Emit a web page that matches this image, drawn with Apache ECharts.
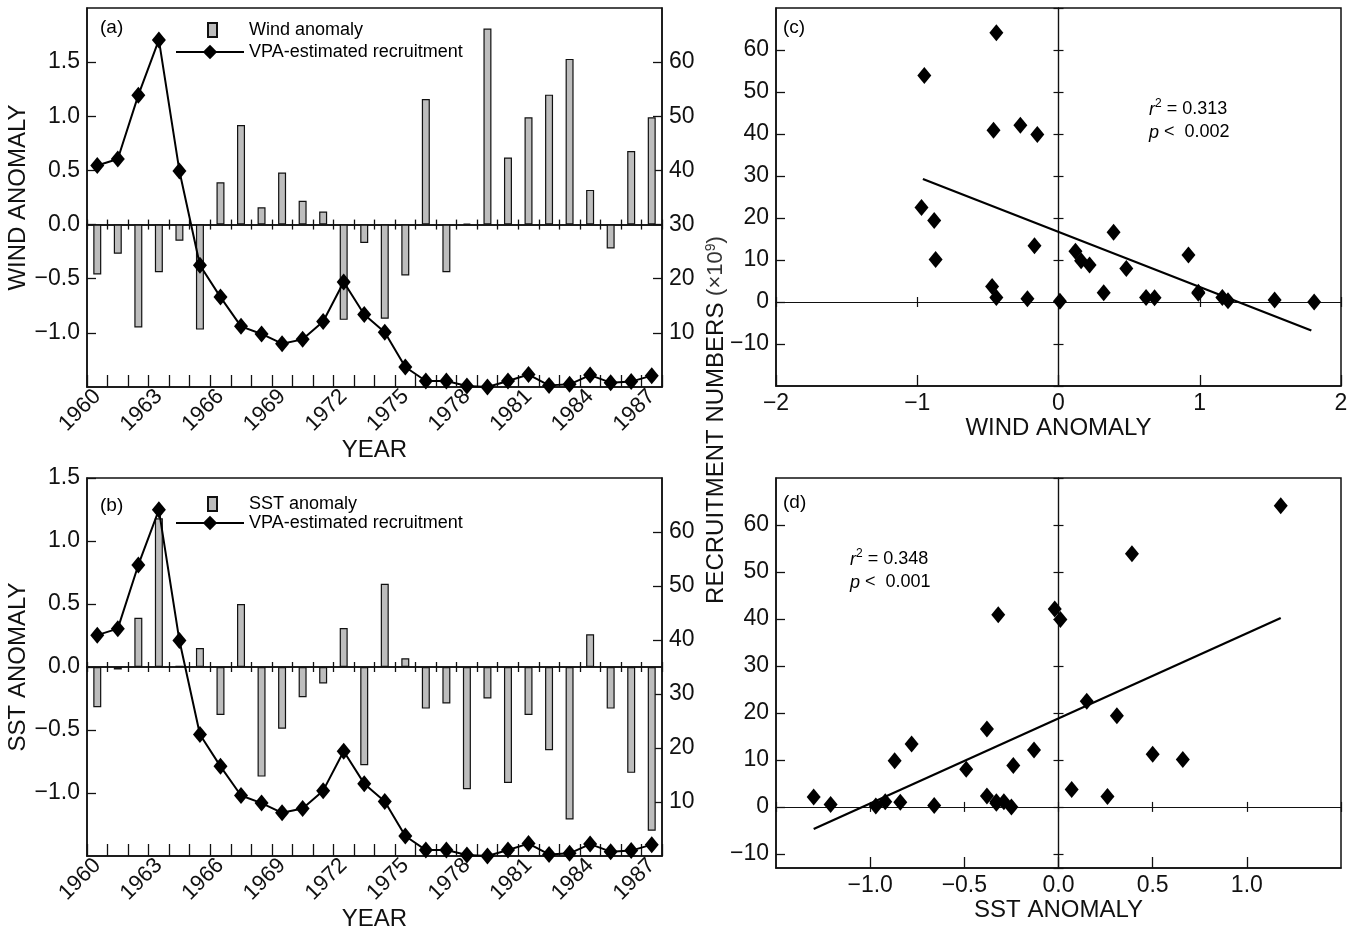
<!DOCTYPE html>
<html><head><meta charset="utf-8">
<script src="https://cdn.jsdelivr.net/npm/echarts@6/dist/echarts.min.js"></script>
<style>html,body{margin:0;padding:0;background:#fff}#chart{width:1354px;height:936px}</style>
</head><body><div id="chart"></div>
<script>
// ---- data ----
const years = ['1960','1961','1962','1963','1964','1965','1966','1967','1968','1969',
  '1970','1971','1972','1973','1974','1975','1976','1977','1978','1979',
  '1980','1981','1982','1983','1984','1985','1986','1987'];
const windAnomaly = [-0.46,-0.27,-0.95,-0.44,-0.15,-0.97,0.39,0.92,0.16,0.48,
  0.22,0.12,-0.88,-0.17,-0.87,-0.47,1.16,-0.44,0.01,1.81,
  0.62,0.99,1.20,1.53,0.32,-0.22,0.68,0.99];
const sstAnomaly = [-0.32,-0.02,0.39,1.18,0.01,0.15,-0.38,0.50,-0.87,-0.49,
  -0.24,-0.13,0.31,-0.78,0.66,0.07,-0.33,-0.29,-0.97,-0.25,
  -0.92,-0.38,-0.66,-1.21,0.26,-0.33,-0.84,-1.30];
const recruitment = [40.9,42.1,53.9,64.1,39.9,22.5,16.6,11.2,9.8,8.0,
  8.8,12.1,19.4,13.4,10.1,3.7,1.1,1.1,0.2,0.0,
  1.1,2.3,0.3,0.5,2.2,0.8,1.0,2.1];
const windFit = [[-0.96, 29.3], [1.79, -6.8]];
const sstFit = [[-1.30, -4.7], [1.18, 40.2]];
const statsWind = {r2: '0.313', p: '0.002'};
const statsSst = {r2: '0.348', p: '0.001'};

// ---- helpers ----
const FONT = '"Liberation Sans", Arial, Helvetica, sans-serif';
const INK = '#111';
const MINUS = '\u2212';
function f1(v){ if (Math.abs(v) < 1e-9) return '0.0'; return (v < 0 ? MINUS : '') + Math.abs(v).toFixed(1); }
function f0(v){ if (Math.abs(v) < 1e-9) return '0'; return (v < 0 ? MINUS : '') + Math.abs(v).toFixed(0); }
const TICK = 23;
const axLine = (w) => ({color: INK, width: w || 1.5});
const lbl = (extra) => Object.assign({color: INK, fontSize: TICK, fontFamily: FONT}, extra || {});
const nameStyle = {color: INK, fontSize: 24, fontFamily: FONT};

function catBottom(grid) {
  return {gridIndex: grid, type: 'category', data: years, position: 'bottom', boundaryGap: true,
    axisLine: {show: true, onZero: false, lineStyle: axLine(1.5)},
    axisTick: {show: true, inside: true, length: 12, interval: 0, lineStyle: axLine(1.3)},
    axisLabel: lbl({interval: 2, rotate: 45, margin: 6, fontSize: 22}),
    name: 'YEAR', nameLocation: 'middle', nameGap: 51, nameTextStyle: nameStyle};
}
function catZero(grid, yIdx, inside) {
  return {gridIndex: grid, type: 'category', data: years, position: 'bottom', boundaryGap: true,
    axisLine: {show: true, onZero: true, onZeroAxisIndex: yIdx, lineStyle: axLine(1.5)},
    axisTick: {show: true, inside: inside, length: 5, interval: 0, lineStyle: axLine(1.3)},
    axisLabel: {show: false}, splitLine: {show: false}};
}
function valX(grid, min, max, interval, extra) {
  return Object.assign({gridIndex: grid, type: 'value', min: min, max: max, interval: interval, position: 'bottom',
    axisLine: {show: true, onZero: false, lineStyle: axLine(1.5)},
    axisTick: {show: true, inside: true, length: 11, lineStyle: axLine(1.3)},
    splitLine: {show: false}}, extra);
}
function valZero(grid, dimPos, min, max, interval, otherIdx, inside, extra) {
  return Object.assign({gridIndex: grid, type: 'value', min: min, max: max, interval: interval, position: dimPos,
    axisLine: {show: true, onZero: true, onZeroAxisIndex: otherIdx, lineStyle: axLine(1.2)},
    axisTick: {show: true, inside: inside, length: 5, lineStyle: axLine(1.2)},
    axisLabel: {show: false}, splitLine: {show: false}}, extra);
}
function valY(grid, pos, min, max, interval, fmt, hideMax, extra) {
  return Object.assign({gridIndex: grid, type: 'value', min: min, max: max, interval: interval, position: pos,
    axisLine: {show: true, onZero: false, lineStyle: axLine(1.5)},
    axisTick: {show: true, inside: true, length: 9, lineStyle: axLine(1.3)},
    axisLabel: lbl({formatter: fmt, showMinLabel: false, showMaxLabel: !hideMax, margin: 7}),
    splitLine: {show: false}}, extra);
}

const gridStyle = {show: true, borderColor: INK, borderWidth: 1.5, backgroundColor: 'transparent'};
const barStyle = {color: '#bdbdbd', borderColor: INK, borderWidth: 1.2};
const diamond = {symbol: 'diamond', symbolSize: [14, 17], itemStyle: {color: '#000', opacity: 1}};

const xAxis = [
  catBottom(0), catZero(0, 0, true), catZero(0, 0, false),
  catBottom(1), catZero(1, 2, true), catZero(1, 2, false),
  valX(2, -2, 2, 1, {axisLabel: lbl({formatter: f0, margin: 6}),
    name: 'WIND ANOMALY', nameLocation: 'middle', nameGap: 30, nameTextStyle: nameStyle}),
  valZero(2, 'bottom', -2, 2, 1, 4, true), valZero(2, 'bottom', -2, 2, 1, 4, false),
  valX(3, -1.5, 1.5, 0.5, {axisLabel: lbl({formatter: f1, margin: 6, showMinLabel: false, showMaxLabel: false}),
    name: 'SST ANOMALY', nameLocation: 'middle', nameGap: 29, nameTextStyle: nameStyle}),
  valZero(3, 'bottom', -1.5, 1.5, 0.5, 7, true), valZero(3, 'bottom', -1.5, 1.5, 0.5, 7, false)
];

const yAxis = [
  valY(0, 'left', -1.5, 2.0, 0.5, f1, true, {name: 'WIND ANOMALY', nameLocation: 'middle', nameGap: 56, nameTextStyle: nameStyle}),
  valY(0, 'right', 0, 70, 10, f0, true),
  valY(1, 'left', -1.5, 1.5, 0.5, f1, false, {name: 'SST ANOMALY', nameLocation: 'middle', nameGap: 56, nameTextStyle: nameStyle}),
  valY(1, 'right', 0, 70, 10, f0, true),
  valY(2, 'left', -20, 70, 10, f0, true),
  valZero(2, 'left', -20, 70, 10, 6, true), valZero(2, 'left', -20, 70, 10, 6, false),
  valY(3, 'left', -13, 70, null, f0, true, {splitNumber: 8}),
  valZero(3, 'left', -13, 70, null, 9, true, {splitNumber: 8}), valZero(3, 'left', -13, 70, null, 9, false, {splitNumber: 8})
];

const series = [
  {type: 'bar', name: 'Wind anomaly', xAxisIndex: 0, yAxisIndex: 0, data: windAnomaly, barWidth: 8, itemStyle: barStyle},
  Object.assign({type: 'line', name: 'VPA-estimated recruitment', xAxisIndex: 0, yAxisIndex: 1, data: recruitment,
    showAllSymbol: true, lineStyle: {color: '#000', width: 2}, z: 3}, diamond),
  {type: 'bar', name: 'SST anomaly', xAxisIndex: 3, yAxisIndex: 2, data: sstAnomaly, barWidth: 8, itemStyle: barStyle},
  Object.assign({type: 'line', name: 'VPA-estimated recruitment', xAxisIndex: 3, yAxisIndex: 3, data: recruitment,
    showAllSymbol: true, lineStyle: {color: '#000', width: 2}, z: 3}, diamond),
  Object.assign({type: 'scatter', name: 'wind-recruit', xAxisIndex: 6, yAxisIndex: 4,
    data: windAnomaly.map((w, i) => [w, recruitment[i]]), z: 4}, diamond),
  {type: 'line', name: 'wind-fit', xAxisIndex: 6, yAxisIndex: 4, data: windFit, symbol: 'none',
    lineStyle: {color: '#000', width: 2.2}, z: 3},
  Object.assign({type: 'scatter', name: 'sst-recruit', xAxisIndex: 9, yAxisIndex: 7,
    data: sstAnomaly.map((s, i) => [s, recruitment[i]]), z: 4}, diamond),
  {type: 'line', name: 'sst-fit', xAxisIndex: 9, yAxisIndex: 7, data: sstFit, symbol: 'none',
    lineStyle: {color: '#000', width: 2.2}, z: 3}
];

const legTxt = {color: '#000', fontSize: 18, fontFamily: FONT, rich: {p: {width: 27}}};
function barLegend(name, top) {
  return {data: [name], left: 207, top: top, icon: 'rect', itemWidth: 9, itemHeight: 14, selectedMode: false,
    padding: 0, formatter: n => '{p| }' + n, textStyle: legTxt};
}
function lineLegend(top) {
  return {data: ['VPA-estimated recruitment'], left: 175, top: top, itemWidth: 68, itemHeight: 18,
    selectedMode: false, padding: 0, itemGap: 0, textStyle: {color: '#000', fontSize: 18, fontFamily: FONT}};
}

function statText(left, top, s) {
  return {type: 'text', left: left, top: top, style: {
    text: '{i|r}{s|2}{n| = ' + s.r2 + '}\n{i|p}{n| <  ' + s.p + '}',
    fontFamily: FONT, fontSize: 18, fill: '#000',
    rich: {i: {fontStyle: 'italic', fontSize: 18, fontFamily: FONT, lineHeight: 23},
           s: {fontSize: 12, fontFamily: FONT, verticalAlign: 'top', padding: [0, 0, 8, 0], lineHeight: 23},
           n: {fontSize: 18, fontFamily: FONT, lineHeight: 23}}}};
}
function panelLabel(t, left, top) {
  return {type: 'text', left: left, top: top, style: {text: t, fontSize: 19, fontFamily: FONT, fill: '#000'}};
}

const option = {
  animation: false,
  backgroundColor: '#fff',
  textStyle: {fontFamily: FONT},
  grid: [
    Object.assign({left: 87, top: 8, width: 575, height: 379}, gridStyle),
    Object.assign({left: 87, top: 478, width: 575, height: 378}, gridStyle),
    Object.assign({left: 776, top: 8, width: 565, height: 378}, gridStyle),
    Object.assign({left: 776, top: 478, width: 565, height: 390}, gridStyle)
  ],
  legend: [barLegend('Wind anomaly', 21), lineLegend(43), barLegend('SST anomaly', 495), lineLegend(514)],
  xAxis: xAxis,
  yAxis: yAxis,
  series: series,
  graphic: [
    panelLabel('(a)', 100, 18), panelLabel('(b)', 100, 496),
    panelLabel('(c)', 783, 18), panelLabel('(d)', 783, 493),
    statText(1149, 98, statsWind), statText(850, 548, statsSst),
    {type: 'text', x: 716, y: 420, rotation: Math.PI / 2, style: {
      text: '{t|RECRUITMENT NUMBERS }{m|(\u00d710}{s|9}{m|)}',
      align: 'center', verticalAlign: 'middle', textAlign: 'center', textVerticalAlign: 'middle',
      fill: '#111', fontFamily: FONT, fontSize: 24,
      rich: {t: {fontSize: 24, fontFamily: FONT, fill: '#111'}, m: {fontSize: 22, fontFamily: FONT, fill: '#333'},
             s: {fontSize: 14, fontFamily: FONT, fill: '#333', verticalAlign: 'top', padding: [0, 0, 10, 0]}}}}
  ]
};
const chart = echarts.init(document.getElementById('chart'), null, {renderer: 'canvas'});
chart.setOption(option);
</script>
</body></html>
